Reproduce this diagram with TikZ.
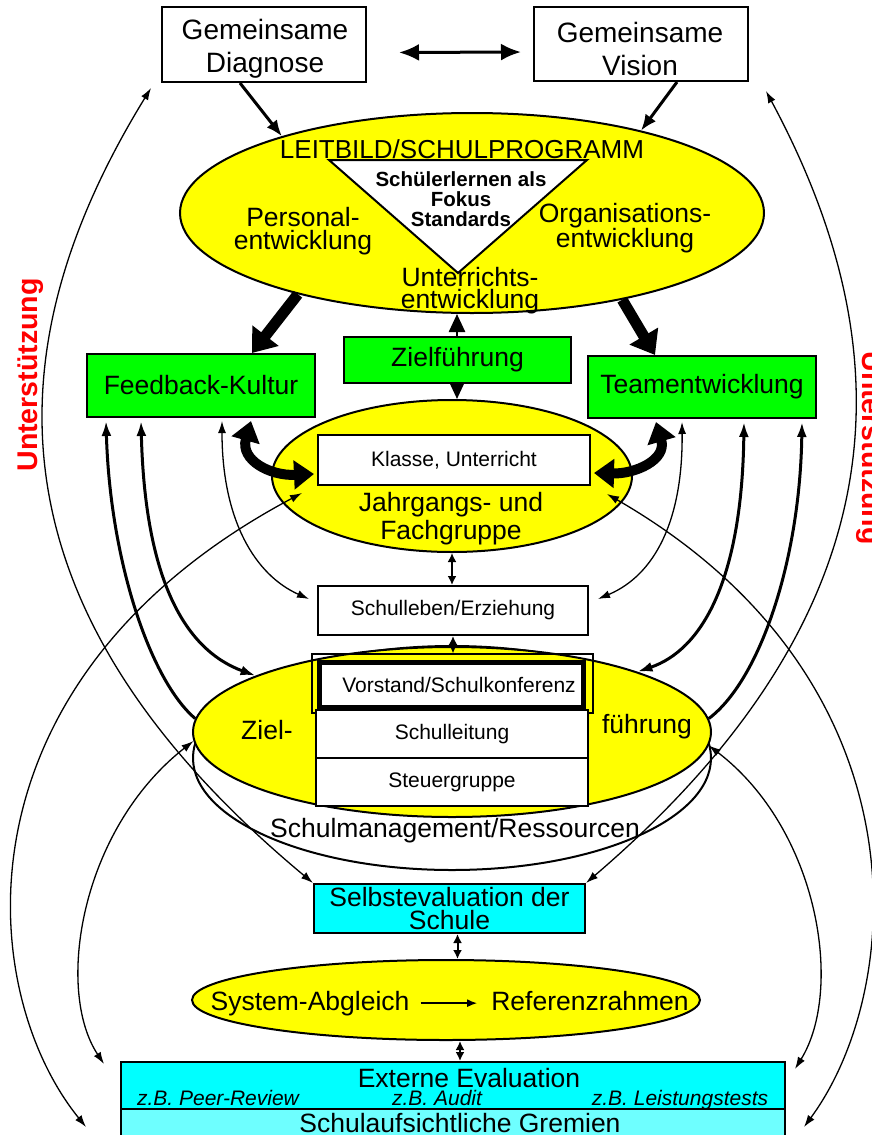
\documentclass[tikz,border=0pt]{standalone}
\usepackage{fontspec}
\setmainfont{Liberation Sans}
\usepackage{tikz}
\usetikzlibrary{shapes.geometric, arrows.meta, calc}

\definecolor{gelb}{RGB}{255,255,0}
\definecolor{gruen}{RGB}{0,255,0}
\definecolor{tuerkis}{RGB}{0,255,255}
\definecolor{hellblau}{RGB}{110,255,255}
\definecolor{rot}{RGB}{255,0,0}

\begin{document}
\begin{tikzpicture}[x=1pt, y=-1pt,
    txt/.style={font=\fontsize{26.5}{24}\selectfont, align=center, inner sep=0pt},
    smalltxt/.style={font=\fontsize{21}{24}\selectfont, align=center, inner sep=0pt},
    box/.style={draw, line width=2pt, rectangle, fill=white, inner sep=0pt, align=center},
    oval/.style={draw, line width=2pt, ellipse, fill=gelb, inner sep=0pt},
    linkthin/.style={line width=1.3pt, >={Latex[length=12pt,width=8pt]}},
    linkthick/.style={line width=3pt, >={Latex[length=15pt,width=10pt]}},
    linkfat/.style={line width=10pt, >={Triangle[length=20pt,width=28pt]}},
    linkshort/.style={line width=2pt, <->, >={Latex[length=9pt,width=9pt]}},
    bigarr/.style={line width=11pt, -{Triangle[length=22pt,width=32pt]}},
    midarr/.style={line width=3pt, -{Latex[length=16pt,width=13pt]}},
    support/.style={font=\bfseries\fontsize{28.5}{28}\selectfont, text=rot, inner sep=0pt}]

    \useasboundingbox (0,0) rectangle (872,1135);

    \node[box, minimum width=204pt, minimum height=75pt] at (264, 44.5) (diag) {};
    \node[box, minimum width=214pt, minimum height=74pt] at (641, 44) (vision) {};
    \node[txt, font=\fontsize{28}{33}\selectfont] at (265, 48.5) (diagtxt) {Gemeinsame\\Diagnose};
    \node[txt, font=\fontsize{28}{33}\selectfont] at (640, 48.5) (visiontxt) {Gemeinsame\\Vision};
    \draw[line width=3pt, {Latex[length=20pt,width=17pt]}-{Latex[length=20pt,width=17pt]}] ($(diag.east)+(32,8)$) -- ($(vision.west)+(-12,8)$);

    \node[oval, minimum width=584pt, minimum height=200pt] at (472, 213) (leit) {};
    \coordinate (tl) at (329, 160);
    \coordinate (tr) at (587, 160);
    \coordinate (tb) at (458, 273);
    \draw[line width=2pt, fill=white] (tl) -- (tr) -- (tb) -- cycle;
    \node[font=\fontsize{26}{26}\selectfont, inner sep=0pt, anchor=base] at (462, 158) (leittxt) {LEITBILD/SCHULPROGRAMM};
    \node[font=\bfseries\fontsize{20.5}{20}\selectfont, align=center, inner sep=0pt] at (461, 199) (fokus) {Schülerlernen als\\Fokus\\Standards};
    \node[txt, font=\fontsize{26.5}{23}\selectfont] at (303, 231) (pers) {Personal-\\entwicklung};
    \node[txt, font=\fontsize{26.5}{23}\selectfont] at (625, 228) (orga) {Organisations-\\entwicklung};
    \node[txt, font=\fontsize{26.5}{22}\selectfont] at (470, 291) (unter) {Unterrichts-\\entwicklung};

    \draw[midarr] ([xshift=-24pt]diag.south) -- (leit.158);
    \draw[midarr] ([xshift=36pt]vision.south) -- (leit.26);

    \node[oval, minimum width=360pt, minimum height=152pt] at (452, 476) (jg) {};
    \draw[line width=2.5pt, {Triangle[length=18pt,width=16pt]}-{Triangle[length=18pt,width=16pt]}] ($(leit.south)+(-15,0)$) -- ($(jg.north)+(5,0)$);
    \node[box, txt, fill=gruen, minimum width=227pt, minimum height=46pt] at (457.5, 360) (ziel) {Zielführung};
    \node[box, txt, fill=gruen, minimum width=228pt, minimum height=63pt] at (201, 385.5) (feed) {Feedback-Kultur};
    \node[box, txt, fill=gruen, minimum width=228pt, minimum height=62pt] at (702, 387) (team) {Teamentwicklung};

    \draw[bigarr] (leit.205) -- ([xshift=51pt]feed.north);
    \draw[bigarr] (leit.330) -- ([xshift=-47pt]team.north);

    \node[box, smalltxt, minimum width=272pt, minimum height=50pt] at (454, 460) (klasse) {Klasse, Unterricht};
    \node[txt, font=\fontsize{26.5}{28}\selectfont] at (451, 519) (jgtxt) {Jahrgangs- und\\Fachgruppe};

    \node[box, smalltxt, minimum width=270pt, minimum height=49pt] at (453, 610.5) (leben) {Schulleben/Erziehung};
    \draw[linkshort] (jg.south) -- (jg.south |- leben.north);

    \node[draw, line width=2pt, ellipse, fill=white, minimum width=518pt, minimum height=224pt] at (452, 758) (mgmt) {};
    \node[oval, minimum width=518pt, minimum height=170pt] at (452, 732) (zf) {};
    \node[draw, line width=1.3pt, minimum width=281pt, minimum height=59pt, inner sep=0pt] at (452.5, 683.5) (vorrahmen) {};
    \node[box, smalltxt, line width=5pt, minimum width=264pt, minimum height=45pt] at (451, 684.5) (vorstand) {\hspace*{16pt}Vorstand/Schulkonferenz};
    \node[box, smalltxt, minimum width=272pt, minimum height=48pt] at (452, 734) (leitung) {Schulleitung};
    \node[box, smalltxt, minimum width=272pt, minimum height=48pt] at (452, 782) (steuer) {Steuergruppe};
    \node[txt] at (267, 730) (zl) {Ziel-};
    \node[txt] at (647, 727) (zr) {führung};
    \node[txt] at (455, 831) (mgmttxt) {Schulmanagement/Ressourcen};
    \draw[linkshort] (leben.south) -- (leben.south |- vorrahmen.north);

    \node[box, txt, font=\fontsize{26.5}{23}\selectfont, fill=tuerkis, minimum width=271pt, minimum height=49pt] at (449.5, 908.5) (selbst) {Selbstevaluation der\\Schule};
    \node[oval, minimum width=508pt, minimum height=80pt] at (446, 1000) (sys) {};
    \node[txt, anchor=base] at (310, 1010) (sysl) {System-Abgleich};
    \node[txt, anchor=base] at (590, 1010) (sysr) {Referenzrahmen};
    \draw[line width=1.5pt, -{Latex[length=10pt,width=8pt]}, shorten <=11pt, shorten >=14pt] (sysl.east) -- (sysl.east -| sysr.west);
    \draw[linkshort] ([xshift=8pt]selbst.south) -- ([xshift=8pt]selbst.south |- sys.north);

    \node[box, fill=tuerkis, minimum width=664pt, minimum height=47pt] at (453, 1085.5) (extern) {};
    \node[box, fill=hellblau, minimum width=664pt, minimum height=42pt] at (453, 1130) (aufsicht) {};
    \node[txt, anchor=base] at (469, 1087) (extxt) {Externe Evaluation};
    \node[smalltxt, font=\itshape\fontsize{21}{24}\selectfont, anchor=base] at (218, 1105) (zb1) {z.B. Peer-Review};
    \node[smalltxt, font=\itshape\fontsize{21}{24}\selectfont, anchor=base] at (437, 1105) (zb2) {z.B. Audit};
    \node[smalltxt, font=\itshape\fontsize{21}{24}\selectfont, anchor=base] at (680, 1105) (zb3) {z.B. Leistungstests};
    \node[txt, anchor=base] at (460, 1132) (auftxt) {Schulaufsichtliche Gremien};
    \draw[linkshort] ([xshift=14pt]sys.south) -- ([xshift=14pt]sys.south |- extern.north);

    % Verbindungen links
    \coordinate (dgl) at ($(diag.south west)+(-10,5)$);
    \coordinate (kal) at ($(klasse.south west)+(-15,7)$);
    \coordinate (aul) at ($(aufsicht.north west)+(-34,19)$);
    \coordinate (exl) at ($(extern.north west)+(-16,3)$);
    \coordinate (fb1) at ($(feed.south west)+(20,3)$);
    \coordinate (fb2) at ($(feed.south west)+(55,3)$);
    \coordinate (fb3) at ($(feed.south west)+(136,3)$);
    \coordinate (fb4) at ($(feed.south west)+(165,3)$);
    \coordinate (lbl) at ($(leben.north west)+(-8,14)$);
    \coordinate (kl) at ($(klasse.south west)+(-3,-12)$);

    \draw[linkthin, <->] (dgl) .. controls (-10, 350) and (-15, 610) .. (selbst.north west);
    \draw[linkthin, <->] (kal) .. controls (-50, 680) and (-25, 990) .. (aul);
    \draw[linkthin, <->] (zf.182) .. controls (80, 830) and (55, 990) .. (exl);
    \draw[linkthick, <-] (fb1) .. controls (110, 560) and (150, 680) .. (zf.177);
    \draw[linkthick, <->] (fb2) .. controls (145, 580) and (185, 650) .. (zf.164);
    \draw[linkthin, <->] (fb3) .. controls (222, 520) and (255, 575) .. (lbl);
    \draw[linkfat, <->] (fb4) .. controls (240, 460) and (270, 476) .. (kl);

    % Verbindungen rechts
    \coordinate (vgr) at ($(vision.south east)+(17,9)$);
    \coordinate (kar) at ($(klasse.south east)+(16,8)$);
    \coordinate (aur) at ($(aufsicht.north east)+(18,19)$);
    \coordinate (exr) at ($(extern.north east)+(9,8)$);
    \coordinate (tb1) at ($(team.south west)+(215,3)$);
    \coordinate (tb2) at ($(team.south west)+(157,3)$);
    \coordinate (tb3) at ($(team.south west)+(95,3)$);
    \coordinate (tb4) at ($(team.south west)+(69,3)$);
    \coordinate (lbr) at ($(leben.north east)+(9,14)$);
    \coordinate (kr) at ($(klasse.south east)+(3,-13)$);

    \draw[linkthin, <->] (vgr) .. controls (905, 350) and (905, 610) .. (selbst.north east);
    \draw[linkthin, <->] (kar) .. controls (930, 680) and (905, 990) .. (aur);
    \draw[linkthin, <->] (zf.357) .. controls (819, 830) and (844, 990) .. (exr);
    \draw[linkthick, <-] (tb1) .. controls (800, 560) and (760, 680) .. (zf.3);
    \draw[linkthick, <->] (tb2) .. controls (742, 580) and (702, 650) .. (zf.18);
    \draw[linkthin, <->] (tb3) .. controls (683, 520) and (655, 575) .. (lbr);
    \draw[linkfat, <->] (tb4) .. controls (667, 460) and (635, 474) .. (kr);

    \node[support, rotate=90] at (31, 375) (unterl) {Unterstützung};
    \node[support, rotate=-90] at (869, 448) (unterr) {Unterstützung};
\end{tikzpicture}
\end{document}
